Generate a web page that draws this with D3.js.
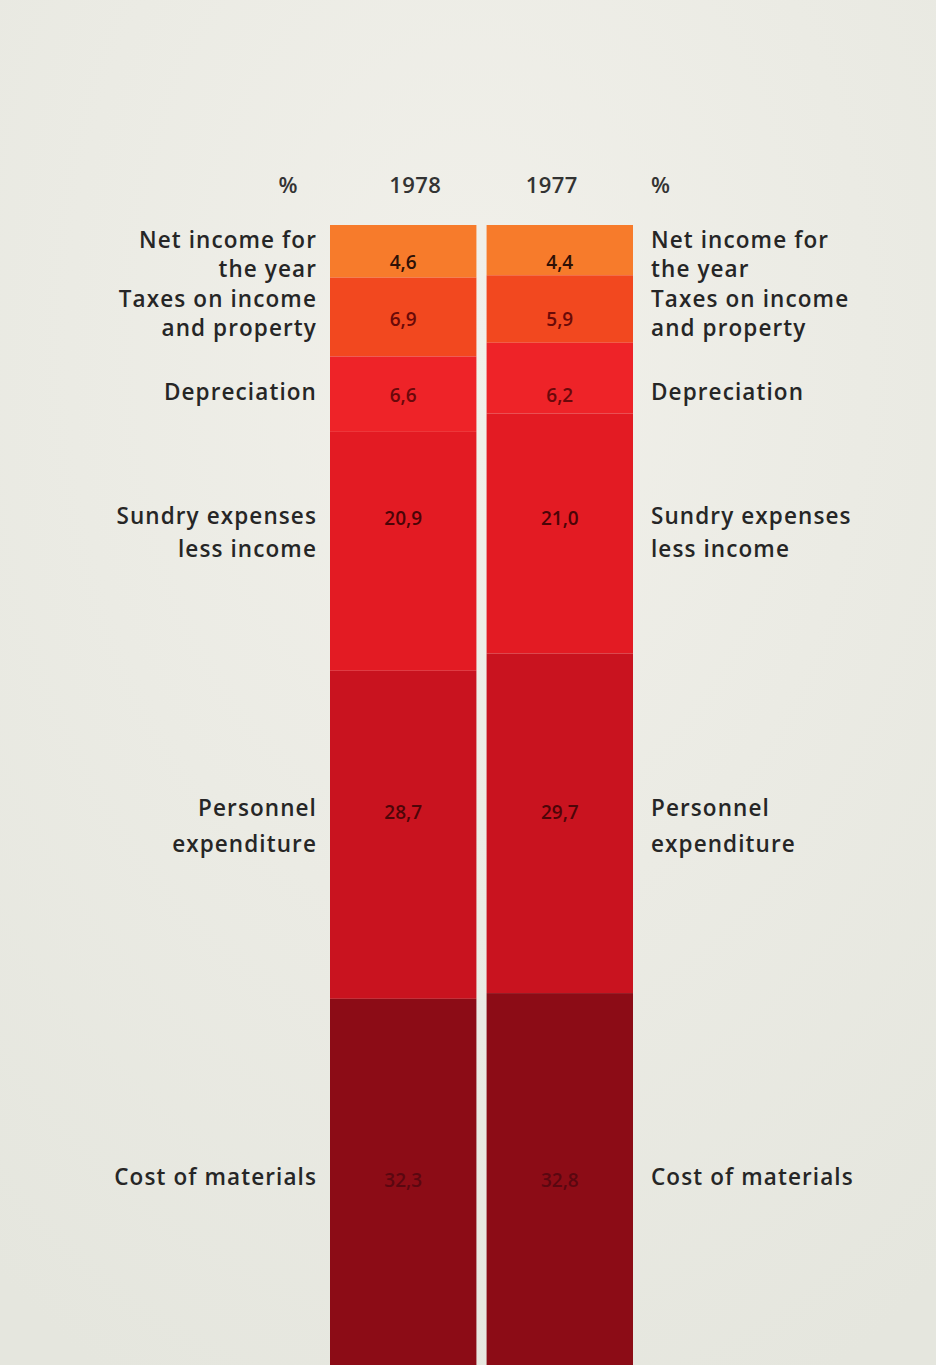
<!DOCTYPE html>
<html>
<head>
<meta charset="utf-8">
<script src="https://cdn.jsdelivr.net/npm/d3@7"></script>
<style>
  html, body { margin: 0; padding: 0; background: #ecebe4; }
  svg { display: block; }
  text { font-family: "Open Sans", "Liberation Sans", sans-serif; }
</style>
</head>
<body>
<svg id="chart" width="936" height="1365"></svg>
<script>
// Breakdown of expenditure, in percent of total, top to bottom
const categories = [
  ["Net income for", "the year"],
  ["Taxes on income", "and property"],
  ["Depreciation"],
  ["Sundry expenses", "less income"],
  ["Personnel", "expenditure"],
  ["Cost of materials"]
];
const years = ["1978", "1977"];
const values1978 = [4.6, 6.9, 6.6, 20.9, 28.7, 32.3];
const values1977 = [4.4, 5.9, 6.2, 21.0, 29.7, 32.8];
const headerLabels = ["%", "1978", "1977", "%"];

const svg = d3.select("#chart");
const W = 936, H = 1365;

// soft paper tone
const defs = svg.append("defs");
const grad = defs.append("radialGradient").attr("id", "paper")
  .attr("cx", "50%").attr("cy", "25%").attr("r", "85%");
grad.append("stop").attr("offset", "0%").attr("stop-color", "#f1f0ea");
grad.append("stop").attr("offset", "100%").attr("stop-color", "#e5e6de");
svg.append("rect").attr("width", W).attr("height", H).attr("fill", "url(#paper)");

const colors = ["#f77b2b", "#f2481f", "#ee2328", "#e31b23", "#c9131f", "#8c0c16"];
const valueColors = ["#2e1006", "#6a0a08", "#6a080a", "#4a0407", "#4e0508", "#5a0710"];

const x = d3.scaleBand().domain(years).range([330, 633]).paddingInner(0.065);
const y = d3.scaleLinear().domain([0, 100]).range([225, 1368]);

// vertical anchors for the row labels (first line baseline) and the values
const rowY = [248, 307, 400, 524, 816, 1185];
const lineGap = [29, 29, 0, 33, 36, 0];
const valueY = [262, 319, 395, 518, 812, 1180];

function stack(vals) {
  let acc = 0;
  return vals.map((v, i) => { const s = acc; acc += v; return { i, v, y0: s, y1: acc }; });
}

const series = [
  { year: "1978", segs: stack(values1978) },
  { year: "1977", segs: stack(values1977) }
];

const bars = svg.selectAll("g.bar").data(series).enter().append("g").attr("class", "bar");
bars.selectAll("rect").data(d => d.segs.map(s => ({ ...s, year: d.year }))).enter()
  .append("rect")
  .attr("x", d => x(d.year))
  .attr("width", x.bandwidth())
  .attr("y", d => y(d.y0))
  .attr("height", d => y(d.y1) - y(d.y0))
  .attr("fill", d => colors[d.i]);

// values inside the bars
bars.selectAll("text.val").data(d => d.segs.map(s => ({ ...s, year: d.year }))).enter()
  .append("text").attr("class", "val")
  .attr("x", d => x(d.year) + x.bandwidth() / 2)
  .attr("y", d => valueY[d.i])
  .attr("dominant-baseline", "central")
  .attr("text-anchor", "middle")
  .attr("font-size", 19)
  .attr("font-weight", 600)
  .attr("fill", d => valueColors[d.i])
  .text(d => d3.format(".1f")(d.v).replace(".", ","));

// header row
const headerX = [x("1978") - 32, x("1978") + x.bandwidth() / 2 + 12, x("1977") + x.bandwidth() / 2 - 8, x("1977") + x.bandwidth() + 18];
const headerAnchor = ["end", "middle", "middle", "start"];
svg.selectAll("text.head").data(headerLabels).enter().append("text")
  .attr("class", "head")
  .attr("x", (d, i) => headerX[i])
  .attr("y", 193)
  .attr("text-anchor", (d, i) => headerAnchor[i])
  .attr("font-size", 22)
  .attr("font-weight", 600)
  .attr("letter-spacing", 0.4)
  .attr("fill", "#333")
  .text(d => d);

// row labels on both sides
function sideLabels(xPos, anchor) {
  const g = svg.append("g");
  categories.forEach((lines, i) => {
    const t = g.append("text")
      .attr("x", xPos)
      .attr("y", rowY[i])
      .attr("text-anchor", anchor)
      .attr("font-size", 22.5)
      .attr("font-weight", 600)
      .attr("letter-spacing", 1.1)
      .attr("fill", "#262626");
    lines.forEach((ln, j) => {
      t.append("tspan").attr("x", xPos).attr("dy", j === 0 ? 0 : lineGap[i]).text(ln);
    });
  });
}
sideLabels(317, "end");
sideLabels(651, "start");
</script>
</body>
</html>
